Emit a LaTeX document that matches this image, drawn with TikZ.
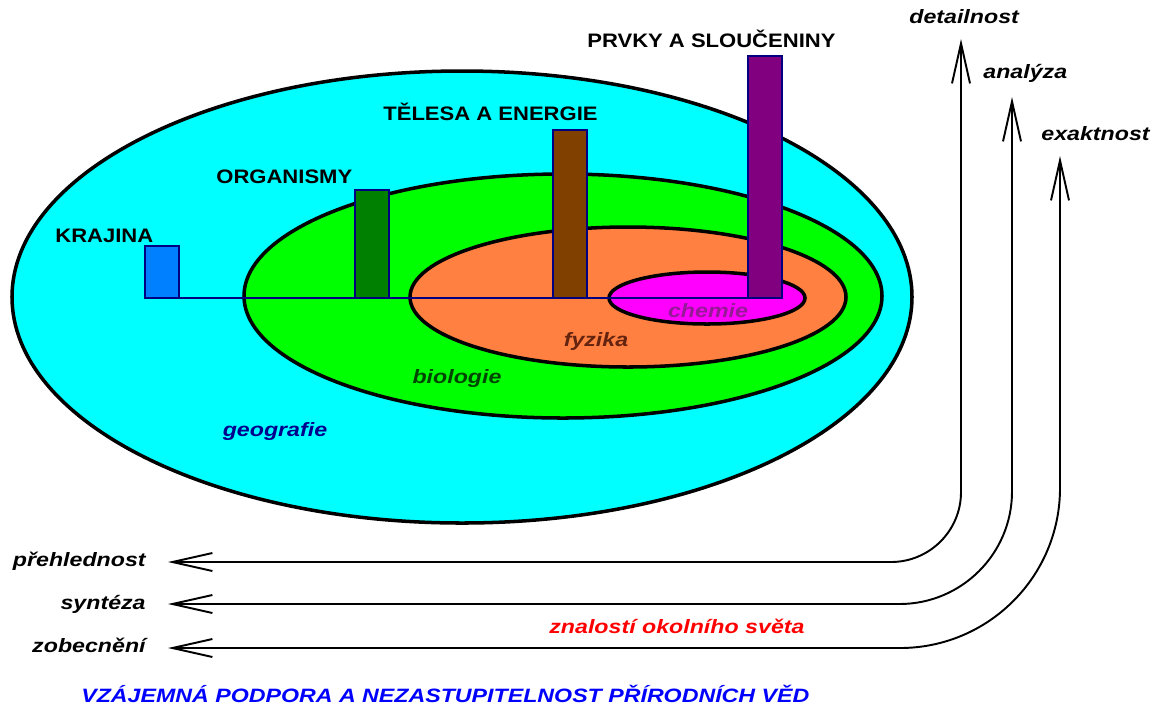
\documentclass[tikz,border=0pt]{standalone}
\usepackage{fontspec}
\setmainfont{Liberation Sans}[FakeStretch=1.2]
\newfontfamily\capsfont{Liberation Sans}[FakeStretch=1.13]
\usepackage{tikz}
\usetikzlibrary{arrows.meta}

\definecolor{geoC}{RGB}{0,255,255}
\definecolor{bioC}{RGB}{0,255,0}
\definecolor{fyzC}{RGB}{255,128,64}
\definecolor{chemC}{RGB}{255,0,255}
\definecolor{krajC}{RGB}{0,128,255}
\definecolor{orgC}{RGB}{0,128,0}
\definecolor{telC}{RGB}{128,64,0}
\definecolor{prvC}{RGB}{128,0,128}
\definecolor{okraj}{RGB}{0,0,128}
\definecolor{geoT}{RGB}{0,0,140}
\definecolor{bioT}{RGB}{0,70,0}
\definecolor{fyzT}{RGB}{100,35,15}
\definecolor{chemT}{RGB}{150,25,150}

\tikzset{
	zona/.style={draw=black,line width=2pt},
	sloupec/.style={draw=okraj,line width=1pt},
	nadpis/.style={inner sep=0pt,font=\capsfont\fontsize{11.1}{13}\selectfont\bfseries},
	popis/.style={inner sep=0pt,font=\fontsize{11}{13}\selectfont\bfseries\itshape},
	sipka/.style={line width=1.1pt,{Straight Barb[length=0.8cm,width=0.36cm]}-{Straight Barb[length=0.8cm,width=0.36cm]}}
}

\begin{document}
\begin{tikzpicture}[x=0.02cm,y=-0.02cm]
	\useasboundingbox (0,0) rectangle (1155,708);
	
	\draw[zona,fill=geoC] (462,297) ellipse [x radius=450,y radius=226];
	\draw[zona,fill=bioC] (563,296) ellipse [x radius=319,y radius=122];
	\draw[zona,fill=fyzC] (628,297) ellipse [x radius=218,y radius=70];
	\draw[zona,fill=chemC] (707,298) ellipse [x radius=98,y radius=26];
	
	\draw[sloupec] (145,298) -- (782,298);
	\foreach \x/\h/\c in {145/246/krajC, 355/190/orgC, 553/130/telC, 748/56/prvC}
	\draw[sloupec,fill=\c] (\x,\h) rectangle (\x+34,298);
	
	\node[nadpis,anchor=base west] (krajina) at (55,242) {KRAJINA};
	\node[nadpis,anchor=base west] (organismy) at (216,183) {ORGANISMY};
	\node[nadpis,anchor=base west] (telesa) at (383,120) {TĚLESA A ENERGIE};
	\node[nadpis,anchor=base west] (prvky) at (587,47) {PRVKY A SLOUČENINY};
	
	\node[popis,anchor=base,text=chemT] (chemie) at (708,317) {chemie};
	\node[popis,anchor=base,text=fyzT] (fyzika) at (596,346) {fyzika};
	\node[popis,anchor=base,text=bioT] (biologie) at (457,383) {biologie};
	\node[popis,anchor=base,text=geoT] (geografie) at (275,436) {geografie};
	
	% sipky
	\coordinate (detTip) at (961,39);
	\coordinate (anaTip) at (1012,97);
	\coordinate (exaTip) at (1060,156);
	\coordinate (preTip) at (168,562);
	\coordinate (synTip) at (168,604);
	\coordinate (zobTip) at (168,648);
	
	\draw[sipka,rounded corners=1.4cm] (preTip) -- (preTip -| detTip) -- (detTip);
	\draw[sipka,rounded corners=2.25cm] (synTip) -- (synTip -| anaTip) -- (anaTip);
	\draw[sipka,rounded corners=3.2cm] (zobTip) -- (zobTip -| exaTip) -- (exaTip);
	
	\node[popis,anchor=base west] (detailnost) at (909,23) {detailnost};
	\node[popis,anchor=base west] (analyza) at (983,78) {analýza};
	\node[popis,anchor=base west] (exaktnost) at (1041,140) {exaktnost};
	
	\node[popis,anchor=base east] (prehlednost) at (146,566) {přehlednost};
	\node[popis,anchor=base east] (synteza) at (146,609) {syntéza};
	\node[popis,anchor=base east] (zobecneni) at (146,652) {zobecnění};
	
	\node[popis,anchor=base west,text=red] (znalosti) at (549,633) {znalostí okolního světa};
	\node[popis,anchor=base west,text=blue] (nazev) at (81,702) {VZÁJEMNÁ PODPORA A NEZASTUPITELNOST PŘÍRODNÍCH VĚD};
\end{tikzpicture}
\end{document}
